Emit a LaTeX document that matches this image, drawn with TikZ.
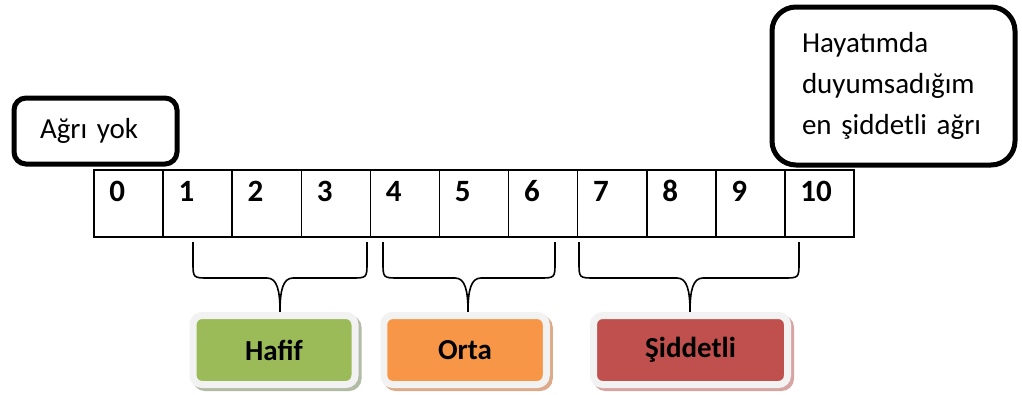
\documentclass[tikz,border=0pt]{standalone}
\usepackage{fontspec}
\setmainfont{Carlito}
\definecolor{framegray}{HTML}{F2F2F2}
\definecolor{hafifgreen}{HTML}{9BBB59}
\definecolor{hafifshade}{HTML}{B2BBA4}
\definecolor{ortaorange}{HTML}{F79646}
\definecolor{ortashade}{HTML}{DDAA8A}
\definecolor{siddetred}{HTML}{C0504D}
\definecolor{siddetshade}{HTML}{D6A5A3}
\tikzset{
  callout/.style={draw, line width=5pt, align=left, inner ysep=0pt,
    font=\fontsize{29}{41}\selectfont},
  cell/.style={draw, line width=1.5pt, minimum width=69.1pt, minimum height=67pt, inner sep=0pt},
  num/.style={anchor=base west, inner sep=0pt, font=\bfseries\fontsize{31}{34}\selectfont},
  brace/.style={line width=1.6pt},
  level/.style n args={2}{draw=framegray, line width=7pt, fill=#1, rounded corners=9pt,
    minimum height=69pt, inner sep=0pt, font=\bfseries\fontsize{29}{31}\selectfont,
    preaction={fill=#2, draw=#2, line width=7pt, transform canvas={xshift=3pt,yshift=-3pt}}}
}
\begin{document}
\begin{tikzpicture}[x=1pt,y=-1pt]
\useasboundingbox (0,0) rectangle (1022,394);

% end-point captions
\node[callout, rounded corners=12pt, minimum height=66pt, text width=111pt, inner xsep=26pt]
  (none) at (95.5,131) {Ağrı yok};
\node[callout, rounded corners=24pt, minimum height=158pt, text width=183pt, inner xsep=30pt]
  (worst) at (893.5,86) {Hayatımda\\duyumsadığım\\en şiddetli ağrı};

% the 0--10 scale
\foreach \i in {0,...,10} {
  \node[cell] (c\i) at ({128.55+69.1*\i},203.5) {};
  \node[num, xshift=16pt, yshift=-32pt] (n\i) at (c\i.north west) {\i};
}

% braces grouping the scale
\foreach \a/\b/\m [count=\k] in {193/367/280, 383/555/468, 579/799/690} {
  \draw[brace] (\a,242) -- (\a,262) .. controls (\a,278) .. (\a+16,278)
    -- (\m-13,278) .. controls (\m-3,278) and (\m,290) .. (\m,312)
    .. controls (\m,290) and (\m+3,278) .. (\m+13,278)
    -- (\b-16,278) .. controls (\b,278) .. (\b,262) -- (\b,242);
}

% severity levels
\node[level={hafifgreen}{hafifshade}, minimum width=162pt] (hafif) at (274,350) {Hafif};
\node[level={ortaorange}{ortashade}, minimum width=162.5pt] (orta) at (465,350) {Orta};
\node[level={siddetred}{siddetshade}, minimum width=194pt] (siddet) at (690.5,350) {Şiddetli};
\end{tikzpicture}
\end{document}
